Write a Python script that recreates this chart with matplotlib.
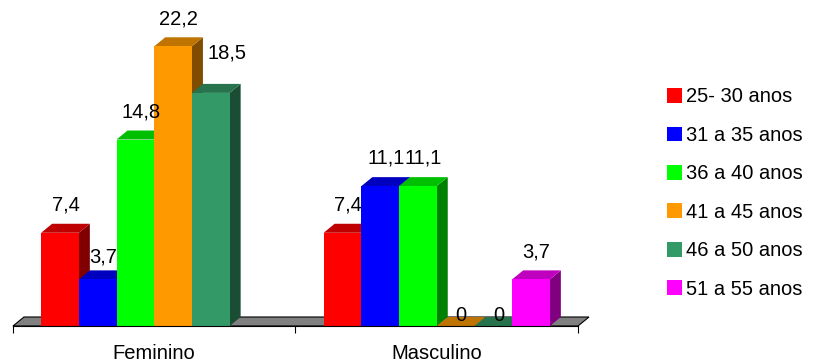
import numpy as np
import matplotlib.pyplot as plt
from matplotlib.patches import Polygon, Patch

plt.rcParams['font.family'] = ['Liberation Sans', 'DejaVu Sans']

categories = ['Feminino', 'Masculino']
series_names = ['25- 30 anos', '31 a 35 anos', '36 a 40 anos',
                '41 a 45 anos', '46 a 50 anos', '51 a 55 anos']
feminino = [7.4, 3.7, 14.8, 22.2, 18.5, np.nan]
masculino = [7.4, 11.1, 11.1, 0, 0, 3.7]
colors = ['#FF0000', '#0000FF', '#00FF00', '#FF9900', '#339966', '#FF00FF']

values = np.array([feminino, masculino])

fig = plt.figure(figsize=(8.16, 3.63), dpi=100)
ax = fig.add_axes([0, 0, 1, 1])

# pixel -> data mapping
px_x = 282.5          # pixels per category
px_y = 12.6           # pixels per value unit
ax.set_xlim(-0.5 - 13 / px_x, -0.5 + (816 - 13) / px_x)
ax.set_ylim(-37 / px_y, (363 - 37) / px_y)

w = 37.7 / px_x       # bar width
ddx = 11 / px_x       # depth offset
ddy = 9 / px_y

# a few labels sit a bit off their default place (pixels: right, up)
nudge = {(0, 1): (0, -5), (0, 4): (11, 12)}


def shade(c, f):
    r, g, b = plt.matplotlib.colors.to_rgb(c)
    return (r * f, g * f, b * f)


# floor
ax.add_patch(Polygon([(-0.5, 0), (1.5, 0), (1.5 + ddx, ddy), (-0.5 + ddx, ddy)],
                     closed=True, facecolor='#808080', edgecolor='black',
                     linewidth=0.8, zorder=1))

z = 2
for ci in range(len(categories)):
    for si in range(len(series_names)):
        v = values[ci, si]
        if np.isnan(v):
            continue
        x0 = ci + (si - 3) * w
        x1 = x0 + w
        col = colors[si]
        # side face
        ax.add_patch(Polygon([(x1, 0), (x1 + ddx, ddy), (x1 + ddx, v + ddy), (x1, v)],
                             closed=True, facecolor=shade(col, 0.5),
                             edgecolor='none', zorder=z))
        # top face
        ax.add_patch(Polygon([(x0, v), (x1, v), (x1 + ddx, v + ddy), (x0 + ddx, v + ddy)],
                             closed=True, facecolor=shade(col, 0.75),
                             edgecolor='none', zorder=z + 0.1))
        # front face
        ax.bar(x0, v, width=w, align='edge', color=col, zorder=z + 0.2,
               linewidth=0)
        nx, ny = nudge.get((ci, si), (0, 0))
        lx = x0 + w / 2 + ddx / 2 + nx / px_x
        ly = v + (2.2 if v > 0 else 0.8) + ny / px_y
        ax.text(lx, ly, f'{v:.1f}'.replace('.', ',') if v != 0 else '0',
                ha='center', va='center', fontsize=14.5, zorder=20)
        z += 1

# axis
for s in ['top', 'right', 'left']:
    ax.spines[s].set_visible(False)
ax.spines['bottom'].set_position(('data', 0))
ax.spines['bottom'].set_bounds(-0.5, 1.5)
ax.spines['bottom'].set_zorder(30)
ax.set_yticks([])
ax.set_xticks([-0.5, 0.5, 1.5])
ax.set_xticklabels([])
ax.tick_params(axis='x', which='major', length=5, direction='out')
ax.set_xticks([0, 1], minor=True)
ax.set_xticklabels(categories, minor=True, fontsize=14.5)
ax.tick_params(axis='x', which='minor', length=0, pad=13)

handles = [Patch(facecolor=c, edgecolor='none') for c in colors]
fig.legend(handles, series_names, loc='upper left',
           bbox_to_anchor=(667 / 816, 1 - 87.5 / 363), frameon=False,
           fontsize=14.5, handlelength=0.75, handleheight=0.75,
           handletextpad=0.2, labelspacing=0.965, borderpad=0,
           borderaxespad=0)

fig.savefig('out.png', dpi=100)
